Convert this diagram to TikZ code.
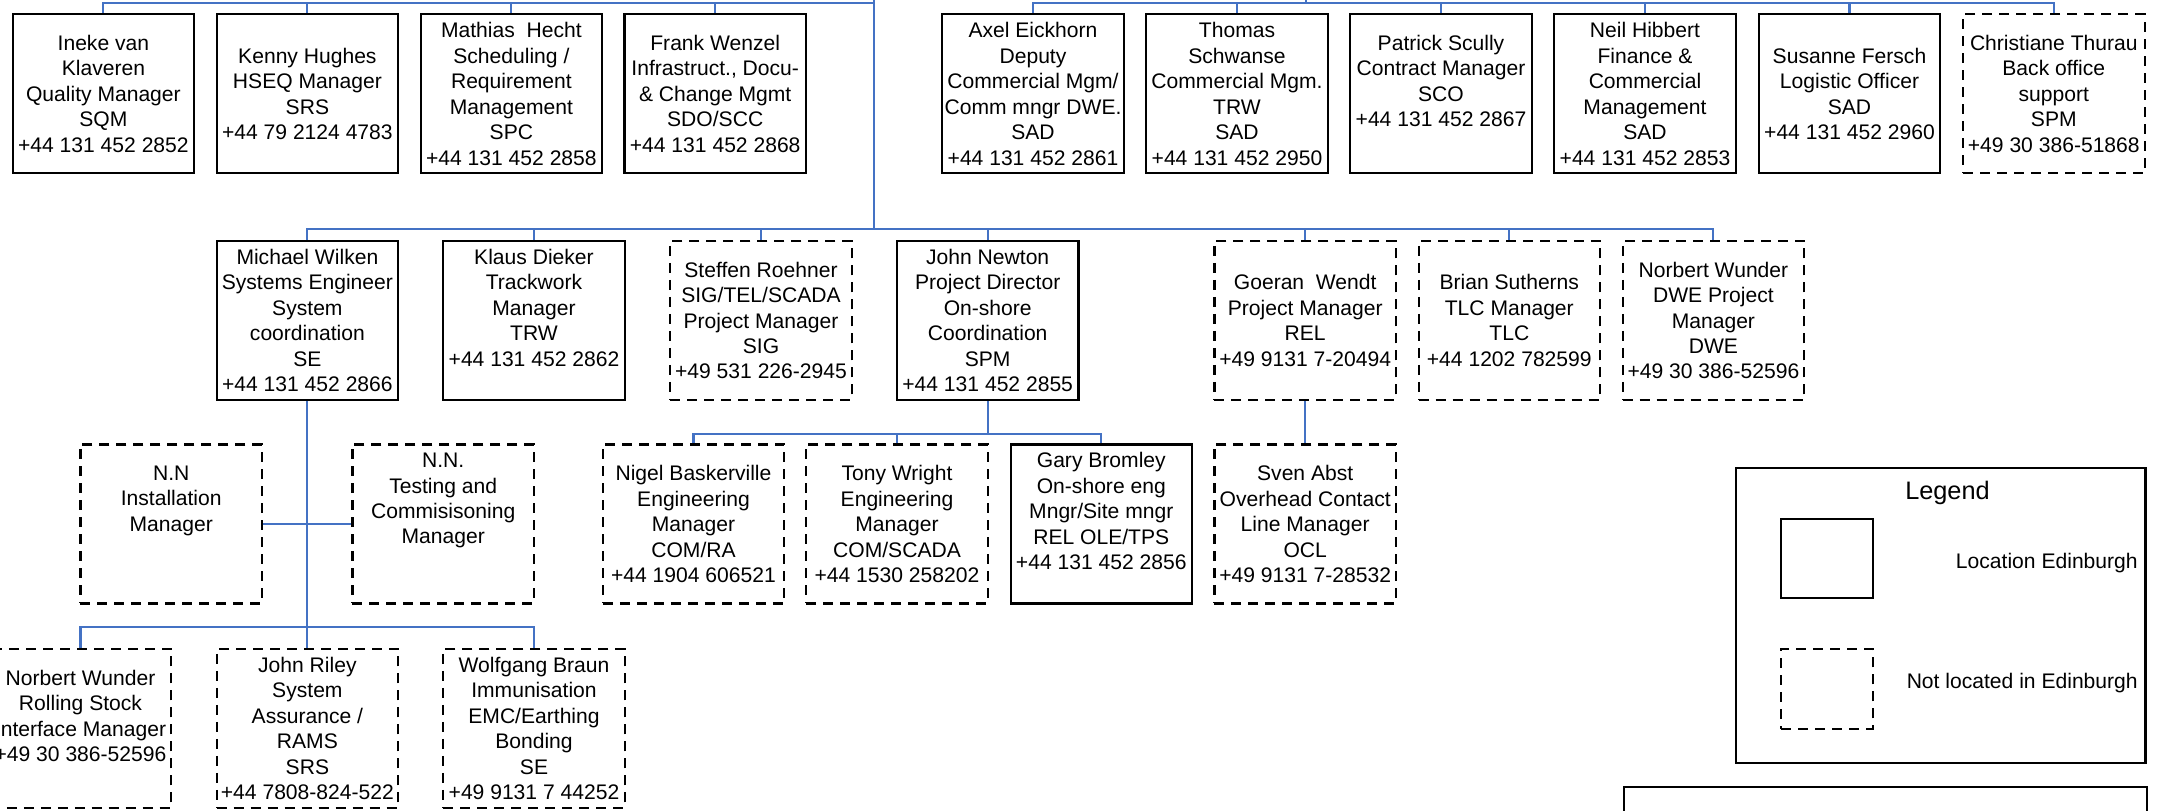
\documentclass[tikz,border=0pt]{standalone}
\usepackage{fontspec}
\setmainfont{Liberation Sans}
\definecolor{connblue}{HTML}{4472C4}
\begin{document}
\begin{tikzpicture}[x=0.1mm,y=-0.1mm,
  box/.style={draw=black, line width=0.6pt, minimum width=18.15mm, minimum height=15.9mm, inner sep=0pt, align=center, font=\fontsize{6pt}{7.25pt}\selectfont},
  solidbox/.style={box},
  dashbox/.style={box, dash pattern=on 1.0mm off 0.7mm},
  link/.style={draw=connblue, line width=0.6pt},
  plain/.style={draw=black, line width=0.6pt, inner sep=0pt},
  lbl/.style={inner sep=0pt, font=\fontsize{6pt}{7.25pt}\selectfont}
]
\useasboundingbox (0,0) rectangle (2179,811);
\clip (0,0) rectangle (2179,811);

% ---------- top row ----------
\node[solidbox] (ineke)   at (103.4,93.8)  {Ineke van\\Klaveren\\Quality Manager\\SQM\\+44 131 452 2852};
\node[solidbox] (kenny)   at (307.4,93.8)  {Kenny Hughes\\HSEQ Manager\\SRS\\+44 79 2124 4783};
\node[solidbox] (mathias) at (511.4,93.8)  {Mathias~~Hecht\\Scheduling /\\Requirement\\Management\\SPC\\+44 131 452 2858};
\node[solidbox] (frank)   at (715.2,93.8)  {Frank Wenzel\\Infrastruct., Docu-\\\& Change Mgmt\\SDO/SCC\\+44 131 452 2868};

\node[solidbox] (axel)     at (1033,93.8) {Axel Eickhorn\\Deputy\\Commercial Mgm/\\Comm mngr DWE.\\SAD\\+44 131 452 2861};
\node[solidbox] (thomas)   at (1237,93.8) {Thomas\\Schwanse\\Commercial Mgm.\\TRW\\SAD\\+44 131 452 2950};
\node[solidbox] (patrick)  at (1441,93.8) {Patrick Scully\\Contract Manager\\SCO\\+44 131 452 2867\\\mbox{}};
\node[solidbox] (neil)     at (1645,93.8) {Neil Hibbert\\Finance \&\\Commercial\\Management\\SAD\\+44 131 452 2853};
\node[solidbox] (susanne)  at (1849.5,93.8) {Susanne Fersch\\Logistic Officer\\SAD\\+44 131 452 2960};
\node[dashbox]  (christiane) at (2053.8,93.8) {Christiane Thurau\\Back office\\support\\SPM\\+49 30 386-51868};

% ---------- second row ----------
\node[solidbox] (michael) at (307.4,320.5) {Michael Wilken\\Systems Engineer\\System\\coordination\\SE\\+44 131 452 2866};
\node[solidbox] (klaus)   at (534,320.5)   {Klaus Dieker\\Trackwork\\Manager\\TRW\\+44 131 452 2862\\\mbox{}};
\node[dashbox]  (steffen) at (761,320.5)   {Steffen Roehner\\SIG/TEL/SCADA\\Project Manager\\SIG\\+49 531 226-2945};
\node[solidbox] (newton)  at (987.7,320.5) {John Newton\\Project Director\\On-shore\\Coordination\\SPM\\+44 131 452 2855};
\node[dashbox]  (goeran)  at (1305.2,320.5) {Goeran~~Wendt\\Project Manager\\REL\\+49 9131 7-20494};
\node[dashbox]  (brian)   at (1509.3,320.5) {Brian Sutherns\\TLC Manager\\TLC\\+44 1202 782599};
\node[dashbox]  (norbertd) at (1713.4,320.5) {Norbert Wunder\\DWE Project\\Manager\\DWE\\+49 30 386-52596};

% ---------- third row ----------
\node[dashbox]  (inst)  at (171.2,524) {N.N\\Installation\\Manager\\\mbox{}\\\mbox{}};
\node[dashbox]  (test)  at (443.2,524) {N.N.\\Testing and\\Commisisoning\\Manager\\\mbox{}\\\mbox{}};
\node[dashbox]  (nigel) at (693.5,524) {Nigel Baskerville\\Engineering\\Manager\\COM/RA\\+44 1904 606521};
\node[dashbox]  (tony)  at (897,524)   {Tony Wright\\Engineering\\Manager\\COM/SCADA\\+44 1530 258202};
\node[solidbox] (gary)  at (1101.3,524) {Gary Bromley\\On-shore eng\\Mngr/Site mngr\\REL OLE/TPS\\+44 131 452 2856\\\mbox{}};
\node[dashbox]  (sven)  at (1305.2,524) {Sven Abst\\Overhead Contact\\Line Manager\\OCL\\+49 9131 7-28532};

% ---------- bottom row ----------
\node[dashbox] (norbertr) at (80.5,728.5)  {Norbert Wunder\\Rolling Stock\\Interface Manager\\+49 30 386-52596\\\mbox{}};
\node[dashbox] (riley)    at (307.4,728.5) {John Riley\\System\\Assurance /\\RAMS\\SRS\\+44 7808-824-522};
\node[dashbox] (wolfgang) at (534,728.5)   {Wolfgang Braun\\Immunisation\\EMC/Earthing\\Bonding\\SE\\+49 9131 7 44252};

% ---------- junctions ----------
\coordinate (Ttop) at (873.6,-10);
\coordinate (T0)   at (873.6,3);
\coordinate (B2)   at (873.6,229.3);
\coordinate (Rtop) at (1305.7,-10);
\coordinate (R0)   at (1305.7,3);
\coordinate (B3)   at (307.4,626.7);
\coordinate (B4)   at (987.7,434);

% ---------- connectors ----------
\draw[link] (Ttop) -- (B2);
\foreach \n in {ineke,kenny,mathias,frank} \draw[link] (\n.north) |- (T0);
\draw[link] (Rtop) -- (R0);
\foreach \n in {axel,thomas,patrick,neil,susanne,christiane} \draw[link] (\n.north) |- (R0);
\foreach \n in {michael,klaus,steffen,newton,goeran,brian,norbertd} \draw[link] (\n.north) |- (B2);
\draw[link] (michael.south) -- (B3);
\draw[link] (inst.east) -- (test.west);
\foreach \n in {norbertr,riley,wolfgang} \draw[link] (\n.north) |- (B3);
\draw[link] (newton.south) -- (B4);
\foreach \n in {nigel,tony,gary} \draw[link] (\n.north) |- (B4);
\draw[link] (goeran.south) -- (sven.north);

% ---------- legend ----------
\node[plain, minimum width=40.95mm, minimum height=29.5mm] (legend) at (1940.75,615.2) {};
\node[inner sep=0pt, font=\fontsize{7.2pt}{8.6pt}\selectfont] (legendtitle) at (1947.5,492.7) {Legend};
\node[plain, minimum width=9.16mm, minimum height=7.96mm] (solidsample) at (1826.8,558.5) {};
\node[plain, dash pattern=on 1.0mm off 0.7mm, minimum width=9.16mm, minimum height=7.96mm] (dashsample) at (1826.8,689) {};
\node[lbl, anchor=east] (soliddesc) at (2138.4,563) {Location Edinburgh};
\node[lbl, anchor=east] (dashdesc) at (2138.4,683.3) {Not located in Edinburgh};

% ---------- partial box at bottom ----------
\node[plain, anchor=north west, minimum width=52.25mm, minimum height=5mm] (notes) at (1623,786) {};
\end{tikzpicture}
\end{document}
